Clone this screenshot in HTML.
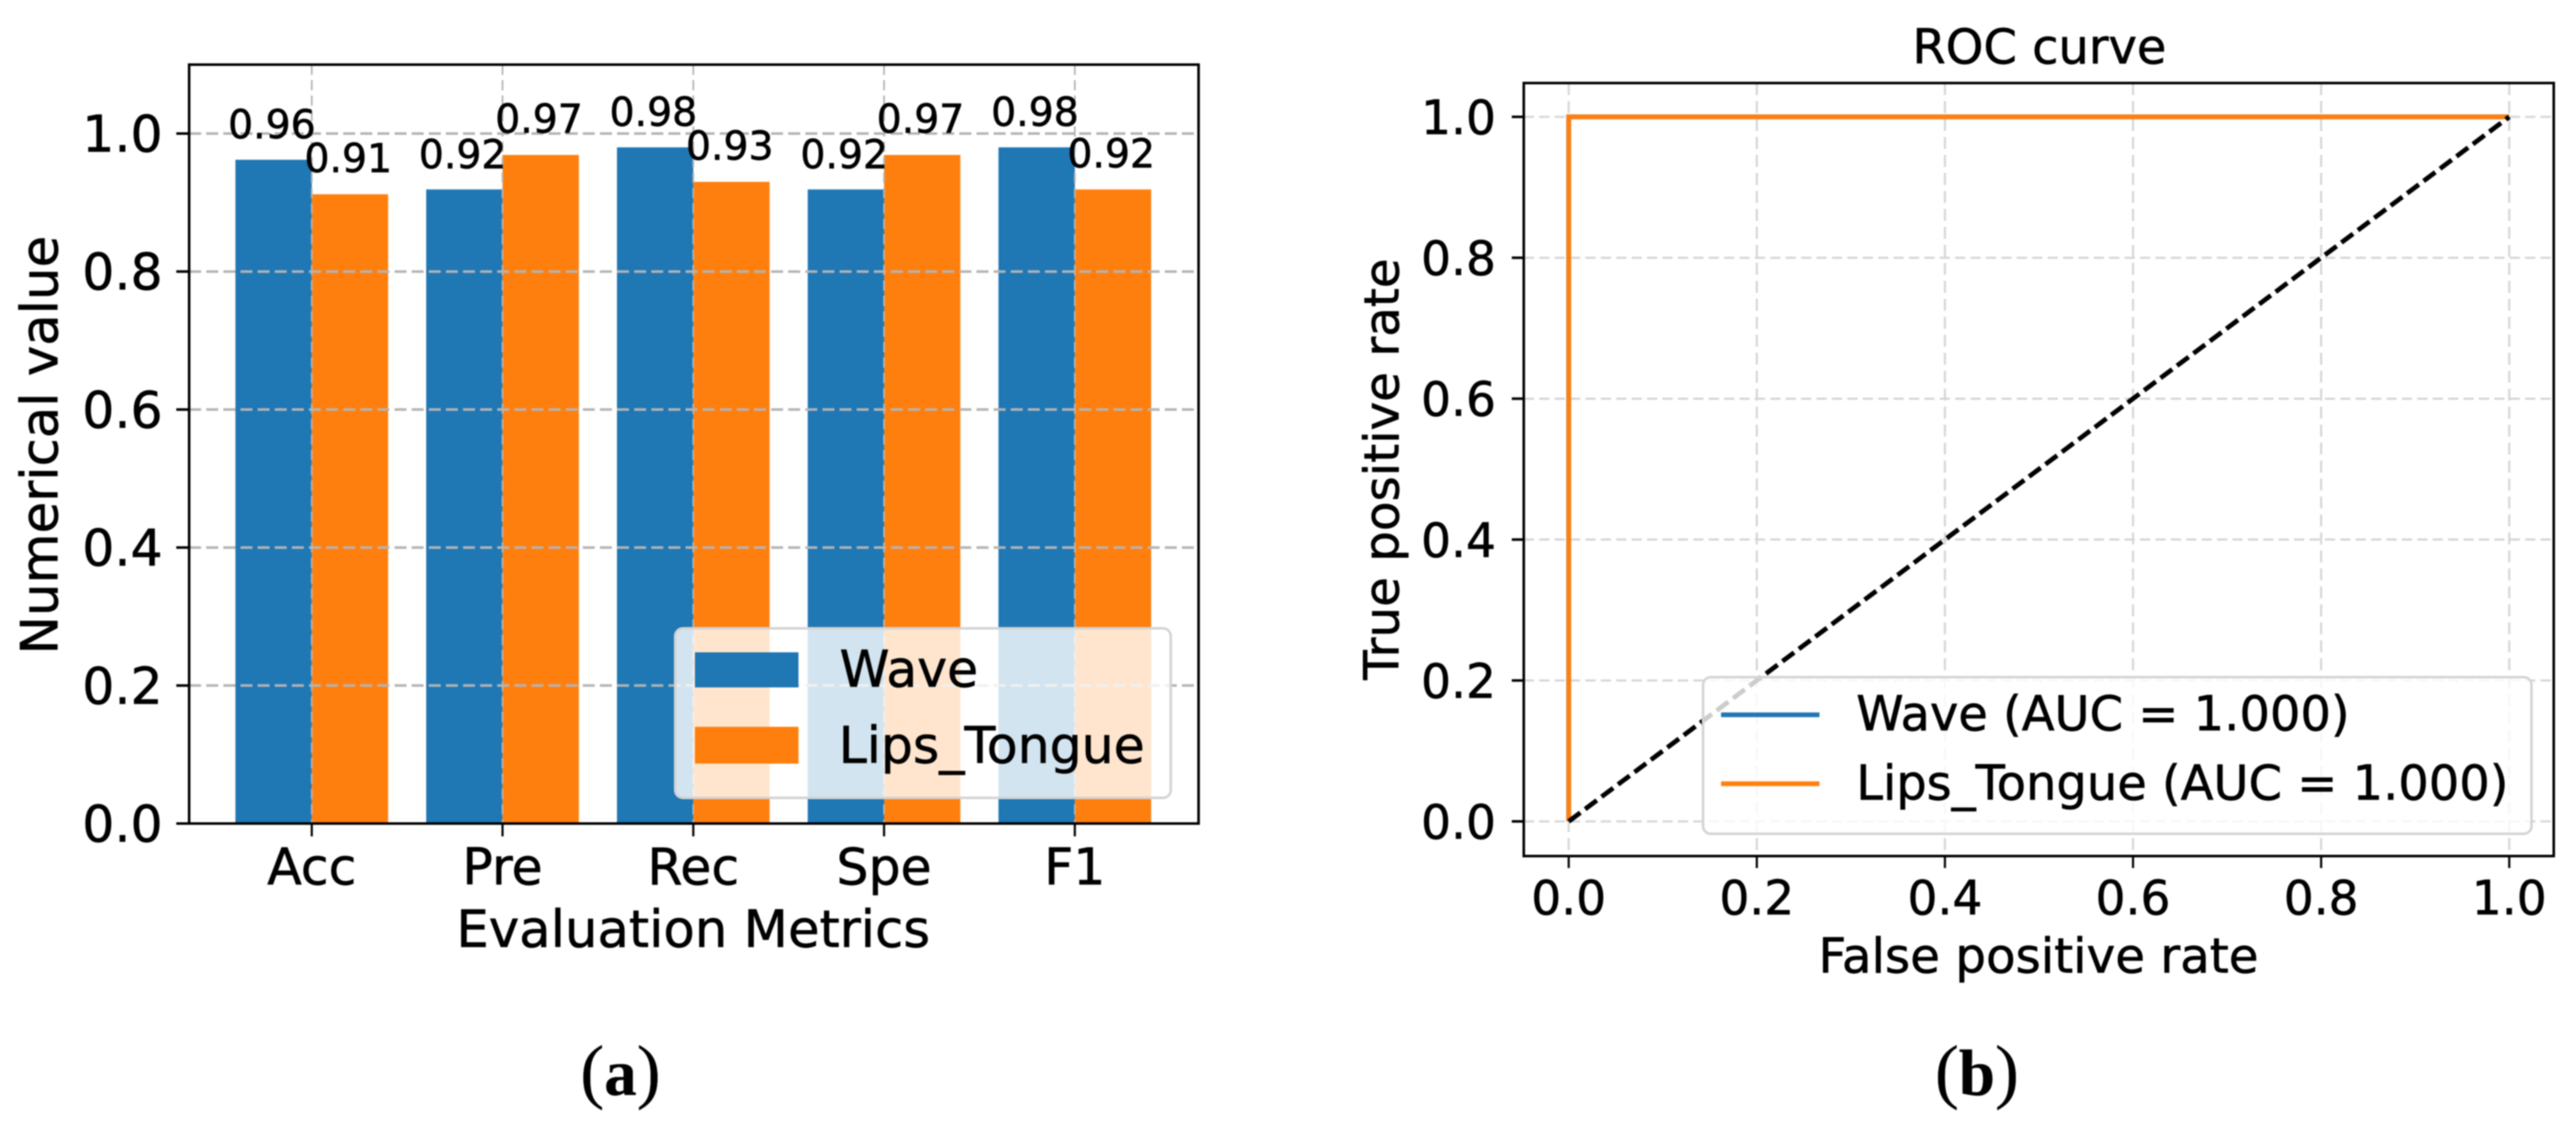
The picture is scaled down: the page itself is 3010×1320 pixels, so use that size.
<!DOCTYPE html>
<html lang="en">
<head>
<meta charset="utf-8">
<title>Evaluation metrics and ROC curve</title>
<style>
html,body{margin:0;padding:0;background:#fff;overflow:hidden;}
svg{display:block;filter:blur(0.9px);}
text{font-family:"DejaVu Sans","Liberation Sans",sans-serif;fill:#000;stroke:#000;stroke-width:0.7px;}
.cap{font-family:"Liberation Serif",serif;font-size:84px;stroke-width:0.3px;}
.cap tspan{font-size:76px;font-weight:bold;}
</style>
</head>
<body>
<svg id="fig" xmlns="http://www.w3.org/2000/svg" width="3010" height="1320" viewBox="0 0 3010 1320">
  <rect width="3010" height="1320" fill="#fff"/>
  <g id="panelA"></g>
  <g id="panelB"></g>
  <text class="cap" x="725" y="1279" text-anchor="middle">(<tspan>a</tspan>)</text>
  <text class="cap" x="2310" y="1279" text-anchor="middle">(<tspan>b</tspan>)</text>
</svg>
<script>
// ---- Panel (a) data ----
const metricCategories = ['Acc', 'Pre', 'Rec', 'Spe', 'F1'];
const waveScores = [0.962, 0.919, 0.98, 0.919, 0.98];
const lipsTongueScores = [0.912, 0.969, 0.93, 0.969, 0.919];
const barYTicks = [0, 0.2, 0.4, 0.6, 0.8, 1.0];

// ---- Panel (b) data ----
const rocWaveFpr = [0, 0, 1];
const rocWaveTpr = [0, 1, 1];
const rocLipsFpr = [0, 0, 1];
const rocLipsTpr = [0, 1, 1];
const chanceFpr = [0, 1];
const chanceTpr = [0, 1];
const rocXTicks = [0, 0.2, 0.4, 0.6, 0.8, 1.0];
const rocYTicks = [0, 0.2, 0.4, 0.6, 0.8, 1.0];

const NS = 'http://www.w3.org/2000/svg';
function mk(parent, tag, props, txt) {
  const el = document.createElementNS(NS, tag);
  for (const k in props) el.setAttribute(k, props[k]);
  if (txt !== undefined) el.textContent = txt;
  parent.appendChild(el);
  return el;
}

// ---- Axis functions ----
const A = {l: 221, r: 1400.5, t: 75.5, b: 962};
const xA = i => 364.3 + 222.9 * i;
const yA = v => 962 - 806 * v;
const BAR_W = 89.2;
const B = {l: 1780.5, r: 2984, t: 97, b: 1000};
const xB = v => 1833 + 1099 * v;
const yB = v => 959.5 - 823 * v;

// ---- Panel (a) ----
const pa = document.getElementById('panelA');

metricCategories.forEach((c, i) => {
  [[waveScores[i], -1, '#1f77b4', 'wave'], [lipsTongueScores[i], 0, '#ff7f0e', 'lips-tongue']].forEach(s => {
    const bar = mk(pa, 'rect', {x: xA(i) + s[1] * BAR_W, y: yA(s[0]), width: BAR_W, height: yA(0) - yA(s[0]), fill: s[2]});
    
    
  });
});

barYTicks.forEach(v => {
  if (v === 0) return;
  const g = mk(pa, 'line', {x1: A.l, x2: A.r, y1: yA(v), y2: yA(v), stroke: '#b4b4b4', 'stroke-width': 3, 'stroke-dasharray': '14 6'});
  
  
});
metricCategories.forEach((c, i) => {
  const g = mk(pa, 'line', {x1: xA(i), x2: xA(i), y1: A.t, y2: A.b, stroke: '#b4b4b4', 'stroke-width': 2, 'stroke-dasharray': '12 6'});
  
  
});

metricCategories.forEach((c, i) => {
  const a = mk(pa, 'text', {x: xA(i) - BAR_W / 2 - 2, y: yA(waveScores[i]) - 25, 'text-anchor': 'middle', 'font-size': 46}, waveScores[i].toFixed(2));
  
  
  const b = mk(pa, 'text', {x: xA(i) + BAR_W / 2 - 2, y: yA(lipsTongueScores[i]) - 26, 'text-anchor': 'middle', 'font-size': 46}, lipsTongueScores[i].toFixed(2));
  
  
});

const frameA = mk(pa, 'rect', {x: A.l, y: A.t, width: A.r - A.l, height: A.b - A.t, fill: 'none', stroke: '#000', 'stroke-width': 3});



barYTicks.forEach(v => {
  const t = mk(pa, 'line', {x1: A.l - 15, x2: A.l, y1: yA(v), y2: yA(v), stroke: '#000', 'stroke-width': 3});
  
  
  const l = mk(pa, 'text', {x: 190, y: yA(v) + 21, 'text-anchor': 'end', 'font-size': 59}, v.toFixed(1));
  
  
});
metricCategories.forEach((c, i) => {
  const t = mk(pa, 'line', {x1: xA(i), x2: xA(i), y1: A.b, y2: A.b + 15, stroke: '#000', 'stroke-width': 2.5});
  
  
  const l = mk(pa, 'text', {x: xA(i), y: 1033, 'text-anchor': 'middle', 'font-size': 59}, c);
  
  
});

const xTitleA = mk(pa, 'text', {x: 810, y: 1106, 'text-anchor': 'middle', 'font-size': 60}, 'Evaluation Metrics');


const yTitleA = mk(pa, 'text', {transform: 'translate(67 520) rotate(-90)', 'text-anchor': 'middle', 'font-size': 60}, 'Numerical value');



const legA = mk(pa, 'g', {});


const legABox = mk(legA, 'rect', {x: 789, y: 734, width: 579, height: 198, rx: 9, ry: 9, fill: 'rgba(255,255,255,0.8)', stroke: '#d4d4d4', 'stroke-width': 3});


const swA1 = mk(legA, 'rect', {x: 812, y: 762, width: 121, height: 41, fill: '#1f77b4'});


const swA2 = mk(legA, 'rect', {x: 812, y: 849, width: 121, height: 43, fill: '#ff7f0e'});


const ltA1 = mk(legA, 'text', {x: 981, y: 802, 'font-size': 59}, 'Wave');


const ltA2 = mk(legA, 'text', {x: 980, y: 891, 'font-size': 59}, 'Lips_Tongue');



// ---- Panel (b) ----
const pb = document.getElementById('panelB');

rocYTicks.forEach(v => {
  const g = mk(pb, 'line', {x1: B.l, x2: B.r, y1: yB(v), y2: yB(v), stroke: '#d6d6d6', 'stroke-width': 2.5, 'stroke-dasharray': '12 6'});
  
  
});
rocXTicks.forEach(v => {
  const g = mk(pb, 'line', {x1: xB(v), x2: xB(v), y1: B.t, y2: B.b, stroke: '#d6d6d6', 'stroke-width': 2.5, 'stroke-dasharray': '14 7'});
  
  
});

function pathFrom(xs, ys) {
  return xs.map((x, i) => (i ? 'L' : 'M') + xB(x) + ' ' + yB(ys[i])).join(' ');
}
const lineWave = mk(pb, 'path', {d: pathFrom(rocWaveFpr, rocWaveTpr), fill: 'none', stroke: '#1f77b4', 'stroke-width': 5.5});


const lineLips = mk(pb, 'path', {d: pathFrom(rocLipsFpr, rocLipsTpr), fill: 'none', stroke: '#ff7f0e', 'stroke-width': 5.5});


const lineChance = mk(pb, 'path', {d: pathFrom(chanceFpr, chanceTpr), fill: 'none', stroke: '#000', 'stroke-width': 5.5, 'stroke-dasharray': '17 7'});



const frameB = mk(pb, 'rect', {x: B.l, y: B.t, width: B.r - B.l, height: B.b - B.t, fill: 'none', stroke: '#000', 'stroke-width': 3});



rocYTicks.forEach(v => {
  const t = mk(pb, 'line', {x1: B.l - 14, x2: B.l, y1: yB(v), y2: yB(v), stroke: '#000', 'stroke-width': 3});
  
  
  const l = mk(pb, 'text', {x: 1748, y: yB(v) + 20, 'text-anchor': 'end', 'font-size': 55}, v.toFixed(1));
  
  
});
rocXTicks.forEach(v => {
  const t = mk(pb, 'line', {x1: xB(v), x2: xB(v), y1: B.b, y2: B.b + 14, stroke: '#000', 'stroke-width': 2.5});
  
  
  const l = mk(pb, 'text', {x: xB(v), y: 1068, 'text-anchor': 'middle', 'font-size': 55}, v.toFixed(1));
  
  
});

const titleB = mk(pb, 'text', {x: 2383, y: 74, 'text-anchor': 'middle', 'font-size': 56}, 'ROC curve');


const xTitleB = mk(pb, 'text', {x: 2382, y: 1136, 'text-anchor': 'middle', 'font-size': 56.5}, 'False positive rate');


const yTitleB = mk(pb, 'text', {transform: 'translate(1634 548) rotate(-90)', 'text-anchor': 'middle', 'font-size': 56.5}, 'True positive rate');



const legB = mk(pb, 'g', {});


const legBBox = mk(legB, 'rect', {x: 1990, y: 791, width: 968, height: 183, rx: 9, ry: 9, fill: 'rgba(255,255,255,0.8)', stroke: '#d4d4d4', 'stroke-width': 3});


const hB1 = mk(legB, 'line', {x1: 2011, x2: 2126, y1: 835, y2: 835, stroke: '#1f77b4', 'stroke-width': 5.5});


const hB2 = mk(legB, 'line', {x1: 2011, x2: 2126, y1: 915.5, y2: 915.5, stroke: '#ff7f0e', 'stroke-width': 5.5});


const ltB1 = mk(legB, 'text', {x: 2169, y: 853, 'font-size': 56}, 'Wave (AUC = 1.000)');


const ltB2 = mk(legB, 'text', {x: 2169, y: 934, 'font-size': 56}, 'Lips_Tongue (AUC = 1.000)');


</script>
</body>
</html>
